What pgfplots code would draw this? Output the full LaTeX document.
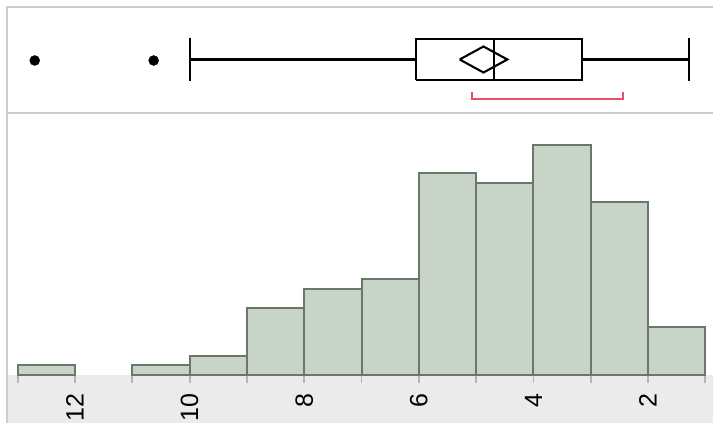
\documentclass[border=0pt]{standalone}
\usepackage{fontspec}
\usepackage{pgfplots}
\pgfplotsset{compat=1.18}
\newfontfamily\lsans{Liberation Sans}
\definecolor{barfill}{HTML}{C8D4C8}
\definecolor{baredge}{HTML}{6A776A}
\definecolor{tickarea}{HTML}{EBEBEB}
\definecolor{tickgray}{HTML}{B4B4B4}
\definecolor{framegray}{HTML}{CCCCCC}
\definecolor{bracketred}{HTML}{E8506A}
\begin{document}
\begin{tikzpicture}
% tick area background and frame
\fill[tickarea] (8pt,0pt) rectangle (713pt,48pt);
\draw[framegray, line width=2.2pt] (7pt,0pt) -- (7pt,416pt) -- (713pt,416pt);
\draw[framegray, line width=2.2pt] (7pt,310pt) -- (713pt,310pt);
% histogram
\begin{axis}[
  at={(9pt,48pt)}, anchor=south west,
  width=704pt, height=262pt, scale only axis,
  x dir=reverse,
  xmin=0.866, xmax=13.152,
  ymin=0, ymax=27.3,
  hide y axis,
  axis x line*=bottom,
  x axis line style={draw=none},
  xtick={2,4,6,8,10,12},
  minor xtick={1,3,5,7,9,11,13},
  tick align=outside,
  major tick length=8pt, minor tick length=8pt,
  every tick/.style={draw=tickgray, line width=1.8pt},
  /pgf/number format/assume math mode=true,
  xticklabel style={rotate=90, anchor=east, inner sep=0pt, font=\lsans\fontsize{25}{28}\selectfont},
  xticklabel shift=10pt,
  clip=false,
]
\addplot[ybar interval, fill=barfill, draw=baredge, line width=2pt]
  coordinates {(1,5) (2,18) (3,24) (4,20) (5,21) (6,10) (7,9) (8,7) (9,2) (10,1) (11,0)};
\addplot[ybar interval, fill=barfill, draw=baredge, line width=2pt]
  coordinates {(12,1) (13,1)};
\end{axis}
% box plot
\begin{axis}[
  at={(9pt,310pt)}, anchor=south west,
  width=704pt, height=106pt, scale only axis,
  x dir=reverse,
  xmin=0.866, xmax=13.152,
  ymin=0, ymax=106,
  hide axis, clip=false,
]
\addplot[black, line width=2.1pt, line join=miter] coordinates {(6.044,33) (3.157,33) (3.157,74) (6.044,74) (6.044,33)};
\addplot[black, line width=2.1pt] coordinates {(4.682,33) (4.682,74)};
\addplot[black, line width=2.1pt] coordinates {(10,53.5) (6.044,53.5)};
\addplot[black, line width=2.1pt] coordinates {(3.157,53.5) (1.284,53.5)};
\addplot[black, line width=2.1pt] coordinates {(10,32) (10,75)};
\addplot[black, line width=2.1pt] coordinates {(1.284,32) (1.284,75)};
\addplot[black, line width=2.1pt, line join=miter] coordinates {(5.287,53.5) (4.871,66.5) (4.455,53.5) (4.871,40.5) (5.287,53.5)};
\addplot[only marks, mark=*, mark size=5pt, black] coordinates {(12.703,52.5) (10.627,52.5)};
\addplot[bracketred, line width=2pt] coordinates {(5.066,21) (5.066,14) (2.436,14) (2.436,21)};
\end{axis}
\pgfresetboundingbox
\useasboundingbox (0pt,0pt) rectangle (713pt,423pt);
\end{tikzpicture}
\end{document}
